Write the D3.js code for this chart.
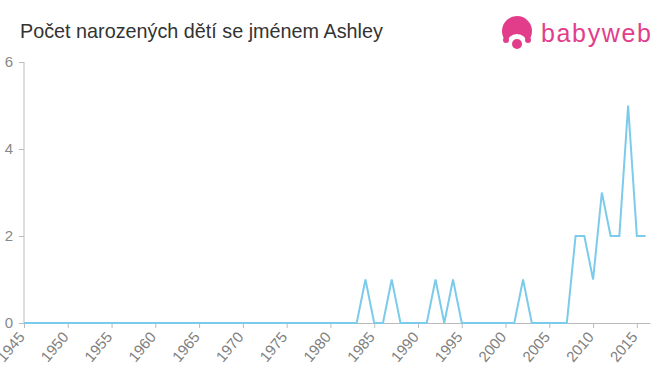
<!DOCTYPE html>
<html lang="cs">
<head>
    <meta charset="UTF-8">
    <title>Počet narozených dětí se jménem Ashley</title>
    <style>
        body {
            margin: 0;
            background: #fff;
            font-family: "Liberation Sans", Arial, sans-serif;
        }
        .axis path, .axis line {
            stroke: #bbbbbb;
        }
    </style>
</head>
<body>
    <div id="chart"></div>

    <script src="https://d3js.org/d3.v7.min.js"></script>
    <script>
        // roky a počty narozených
        const years = [
            1945, 1946, 1947, 1948, 1949, 1950, 1951, 1952, 1953, 1954,
            1955, 1956, 1957, 1958, 1959, 1960, 1961, 1962, 1963, 1964,
            1965, 1966, 1967, 1968, 1969, 1970, 1971, 1972, 1973, 1974,
            1975, 1976, 1977, 1978, 1979, 1980, 1981, 1982, 1983, 1984,
            1985, 1986, 1987, 1988, 1989, 1990, 1991, 1992, 1993, 1994,
            1995, 1996, 1997, 1998, 1999, 2000, 2001, 2002, 2003, 2004,
            2005, 2006, 2007, 2008, 2009, 2010, 2011, 2012, 2013, 2014,
            2015, 2016
        ];
        const births = [
            0, 0, 0, 0, 0, 0, 0, 0, 0, 0,
            0, 0, 0, 0, 0, 0, 0, 0, 0, 0,
            0, 0, 0, 0, 0, 0, 0, 0, 0, 0,
            0, 0, 0, 0, 0, 0, 0, 0, 0, 1,
            0, 0, 1, 0, 0, 0, 0, 1, 0, 1,
            0, 0, 0, 0, 0, 0, 0, 1, 0, 0,
            0, 0, 0, 2, 2, 1, 3, 2, 2, 5,
            2, 2
        ];
        const xTicks = [1945, 1950, 1955, 1960, 1965, 1970, 1975, 1980, 1985, 1990, 1995, 2000, 2005, 2010, 2015];
        const yTicks = [0, 2, 4, 6];

        const title = "Počet narozených dětí se jménem Ashley";

        const width = 660, height = 375;

        const svg = d3.select("#chart")
            .append("svg")
            .attr("width", width)
            .attr("height", height);

        // měřítka
        const x = d3.scaleLinear()
            .domain([1945, 2016.5])
            .range([24, 650]);

        const y = d3.scaleLinear()
            .domain([0, 6])
            .range([323, 62]);

        // osy
        svg.append("g")
            .attr("class", "axis")
            .attr("transform", "translate(24,0)")
            .call(d3.axisLeft(y).tickValues(yTicks).tickFormat(d3.format("d")).tickSize(5).tickPadding(6).tickSizeOuter(0))
            .call(g => g.select(".domain").attr("d", `M0,${y(6)}V${y(0)}`))
            .selectAll("text")
            .style("font-size", "15px")
            .style("font-family", "'Liberation Sans', Arial, sans-serif")
            .style("fill", "#888");

        svg.append("g")
            .attr("class", "axis")
            .attr("transform", `translate(0,${y(0)})`)
            .call(d3.axisBottom(x).tickValues(xTicks).tickFormat(d3.format("d")).tickSize(5).tickSizeOuter(0))
            .selectAll("text")
            .attr("x", 0)
            .attr("y", 0)
            .attr("dy", "0.35em")
            .attr("transform", "translate(-3,11) rotate(-50)")
            .style("text-anchor", "end")
            .style("font-size", "15px")
            .style("font-family", "'Liberation Sans', Arial, sans-serif")
            .style("fill", "#808080");

        // čára
        const line = d3.line()
            .x((d, i) => x(years[i]))
            .y(d => y(d));

        svg.append("path")
            .datum(births)
            .attr("fill", "none")
            .attr("stroke", "#7ccbea")
            .attr("stroke-width", 2)
            .attr("stroke-linejoin", "miter")
            .attr("d", line);

        // nadpis
        svg.append("text")
            .attr("x", 20)
            .attr("y", 38)
            .style("font-size", "19.8px")
            .style("fill", "#333")
            .text(title);

        // logo babyweb
        const logo = svg.append("g");
        const pink = "#e23d8b";
        logo.append("circle").attr("cx", 517).attr("cy", 31).attr("r", 15).attr("fill", pink);
        logo.append("ellipse").attr("cx", 517).attr("cy", 43).attr("rx", 10).attr("ry", 9).attr("fill", "#fff");
        logo.append("circle").attr("cx", 506).attr("cy", 40).attr("r", 3).attr("fill", pink);
        logo.append("circle").attr("cx", 528).attr("cy", 40).attr("r", 3).attr("fill", pink);
        logo.append("circle").attr("cx", 517).attr("cy", 44).attr("r", 5).attr("fill", pink);
        logo.append("text")
            .attr("x", 541)
            .attr("y", 42)
            .attr("textLength", 110)
            .style("font-size", "25px")
            .style("fill", pink)
            .text("babyweb");
    </script>
</body>
</html>
